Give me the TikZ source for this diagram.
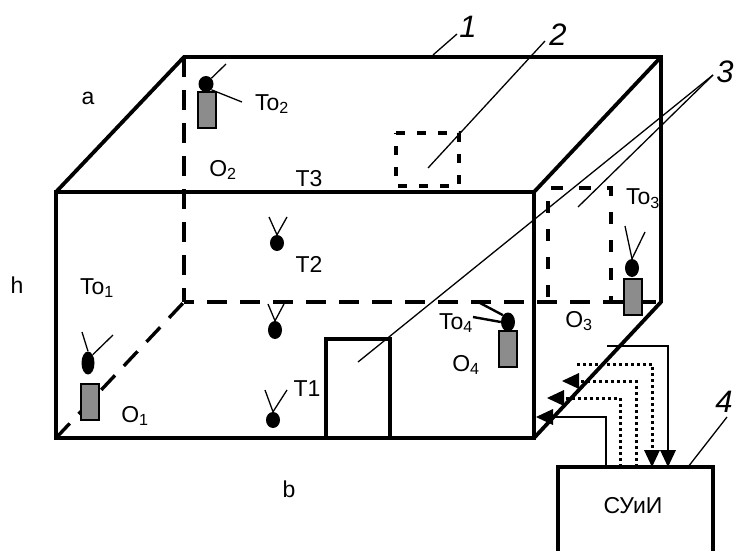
\documentclass[tikz,border=0pt]{standalone}
\usepackage{fontspec}
\setmainfont{Liberation Sans}
\usetikzlibrary{arrows.meta,shapes.geometric}

\begin{document}
\begin{tikzpicture}[x=1pt,y=-1pt,
            every node/.style={inner sep=0pt},
            wall/.style={line width=3.8pt, line join=miter},
            hidden/.style={line width=3.4pt, dash pattern=on 20pt off 13pt},
            vent/.style={line width=3.6pt, dash pattern=on 9pt off 12pt},
            bigvent/.style={line width=3.2pt, dash pattern=on 12pt off 16pt, dash phase=23pt},
            thin leader/.style={line width=1.3pt},
            head/.style={ellipse, fill=black, minimum width=14pt, minimum height=19pt},
            box/.style={rectangle, draw=black, line width=2.2pt, fill=black!45, minimum width=18pt, minimum height=36pt},
            lab/.style={font=\fontsize{23}{25}\selectfont},
            num/.style={font=\fontsize{31}{33}\selectfont\itshape},
            wire/.style={line width=2.4pt},
            dots/.style={line width=3pt, dash pattern=on 3pt off 3pt}]
            \useasboundingbox (0,0) rectangle (734,551);

            % room
            \coordinate (fl) at (56,192);
            \coordinate (fr) at (534,192);
            \coordinate (gl) at (56,438);
            \coordinate (gr) at (534,438);
            \coordinate (bl) at (184,57);
            \coordinate (br) at (661,57);
            \coordinate (cl) at (184,302);
            \coordinate (cr) at (661,302);

            \draw[hidden] (bl) -- (cl);
            \draw[hidden, dash phase=10pt] (cl) -- (cr);
            \draw[hidden] (gl) -- (cl);
            \draw[wall] (fl) -- (fr) -- (gr) -- (gl) -- cycle;
            \draw[wall] (fl) -- (bl) -- (br) -- (cr) -- (gr);
            \draw[wall] (fr) -- (br);

            % door and vents
            \draw[wall] (326,438) -- (326,339) -- (390,339) -- (390,438);
            \draw[vent] (396,133) -- (459,133) -- (459,186) -- (396,186) -- cycle;
            \draw[bigvent] (548,302) -- (548,188) -- (611,188) -- (611,302);

            % sensors
            \node[box]  (s1) at (90,402)  {};
            \node[head, minimum width=13pt, minimum height=23pt] (h1) at (88,363) {};
            \node[box]  (s2) at (207,110) {};
            \node[head, minimum width=15pt, minimum height=16pt] (h2) at (206,84) {};
            \node[box]  (s3) at (633,297) {};
            \node[head, minimum width=14pt, minimum height=18pt] (h3) at (632,268) {};
            \node[box]  (s4) at (508,349) {};
            \node[head] (h4) at (508,322) {};
            \node[head, minimum height=16pt] (t1) at (273,420) {};
            \node[head, minimum height=16pt] (t2) at (277,243) {};
            \node[head, minimum height=18pt] (t3) at (275,330) {};

            % antennas
            \coordinate (a1) at (82,332);
            \coordinate (a2) at (113,335);
            \coordinate (a3) at (226,64);
            \coordinate (a4) at (242,102);
            \coordinate (a5) at (625,226);
            \coordinate (a6) at (645,232);
            \coordinate (a7) at (473,317);
            \coordinate (a8) at (480,303);
            \coordinate (a9) at (265,390);
            \coordinate (a10) at (287,390);
            \coordinate (a11) at (269,217);
            \coordinate (a12) at (287,217);
            \coordinate (a13) at (268,304);
            \coordinate (a14) at (284,304);

            \path[thin leader] (h1.north) edge (a1)
                        (h1.north east) edge (a2)
                        (h2.north east) edge (a3)
                        (h2.south east) edge (a4)
                        (h3.north) edge (a5)
                        (h3.north) edge (a6)
                        (t1.north) edge (a9)
                        (t1.north) edge (a10)
                        (t2.north) edge (a11)
                        (t2.north) edge (a12)
                        (t3.north) edge (a13)
                        (t3.north) edge (a14);
            \path[wire] (h4.west) edge (a7)
                        (h4.north west) edge (a8);

            % control unit
            \coordinate (u1) at (558,551);
            \coordinate (u2) at (558,467);
            \coordinate (u3) at (713,467);
            \coordinate (u4) at (713,551);
            \draw[wall] (u1) -- (u2) -- (u3) -- (u4);
            \node[lab] (unit) at (633,506) {СУиИ};

            % lines to the unit
            \coordinate (w1) at (606,467);
            \coordinate (w2) at (606,417);
            \coordinate (w3) at (536,417);
            \coordinate (w4) at (620,467);
            \coordinate (w5) at (620,398);
            \coordinate (w6) at (547,398);
            \coordinate (w7) at (636,467);
            \coordinate (w8) at (636,381);
            \coordinate (w9) at (562,381);
            \coordinate (w10) at (577,364);
            \coordinate (w11) at (652,364);
            \coordinate (w12) at (652,467);
            \coordinate (w13) at (607,346);
            \coordinate (w14) at (668,346);
            \coordinate (w15) at (668,467);
            \draw[wire] (w1) -- (w2) -- (553,417);
            \draw[dots] (w4) -- (w5) -- (564,398);
            \draw[dots] (w7) -- (w8) -- (579,381);
            \draw[dots] (w10) -- (w11) -- (652,452);
            \draw[wire] (w13) -- (w14) -- (668,452);
            \fill (w3) -- (553,409) -- (553,425) -- cycle;
            \fill (w6) -- (564,390) -- (564,406) -- cycle;
            \fill (w9) -- (579,373) -- (579,389) -- cycle;
            \fill (w12) -- (644,450) -- (660,450) -- cycle;
            \fill (w15) -- (660,450) -- (676,450) -- cycle;

            % labels
            \node[lab] (la) at (88,98)   {a};
            \node[lab] (lb) at (289,489) {b};
            \node[lab] (lh) at (17,285)  {h};
            \node[lab] (lo1) at (135,416) {O\textsubscript{1}};
            \node[lab] (lo2) at (223,170) {O\textsubscript{2}};
            \node[lab] (lo3) at (579,321) {O\textsubscript{3}};
            \node[lab] (lo4) at (466,365) {O\textsubscript{4}};
            \node[lab] (lt1) at (97,288)  {To\textsubscript{1}};
            \node[lab] (lt2) at (272,104) {To\textsubscript{2}};
            \node[lab] (lt3) at (643,199) {To\textsubscript{3}};
            \node[lab] (lt4) at (456,323) {To\textsubscript{4}};
            \node[lab] (ln1) at (307,389) {T1};
            \node[lab] (ln2) at (309,264) {T2};
            \node[lab] (ln3) at (309,179) {T3};
            \node[num] (n1) at (468,27) {1};
            \node[num] (n2) at (558,35) {2};
            \node[num] (n3) at (725,72) {3};
            \node[num] (n4) at (724,402) {4};

            % leaders
            \coordinate (p1) at (433,55);
            \coordinate (q1) at (457,34);
            \coordinate (p2) at (428,168);
            \coordinate (q2) at (545,41);
            \coordinate (p3) at (358,362);
            \coordinate (p4) at (578,207);
            \coordinate (q3) at (713,75);
            \coordinate (p5) at (688,467);
            \coordinate (q4) at (727,417);
            \path[thin leader] (p1) edge (q1)
                        (p2) edge (q2)
                        (p3) edge (q3)
                        (p4) edge (q3)
                        (p5) edge (q4);
        \end{tikzpicture}
\end{document}
